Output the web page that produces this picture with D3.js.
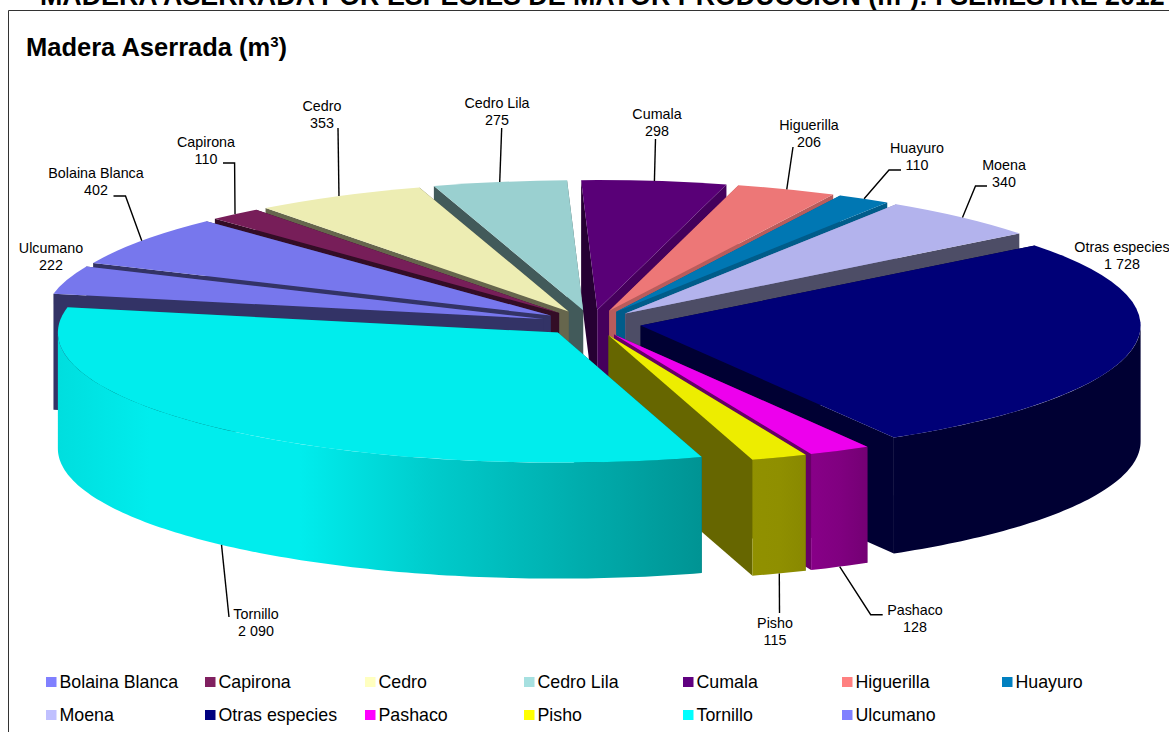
<!DOCTYPE html>
<html><head><meta charset="utf-8">
<style>html,body{margin:0;padding:0;background:#fff;overflow:hidden}svg{display:block;font-family:"Liberation Sans",Arial,sans-serif}</style>
<script src="https://d3js.org/d3.v7.min.js"></script></head><body><svg id="c" width="1169" height="732"></svg>
<script>
// ---- data ----
const categories = ["Bolaina Blanca","Capirona","Cedro","Cedro Lila","Cumala","Higuerilla","Huayuro","Moena","Otras especies","Pashaco","Pisho","Tornillo","Ulcumano"];
const values = [402,110,353,275,298,206,110,340,1728,128,115,2090,222];
const valueLabels = ["402","110","353","275","298","206","110","340","1 728","128","115","2 090","222"];
const colors = ["#8080ff","#802060","#ffffc0","#a6e0e0","#600080","#ff8080","#0080c0","#c0c0ff","#000080","#ff00ff","#ffff00","#00ffff","#8080ff"];
// ---- layout ----
const W=1169,H=732, cx=591.5, cy=323, rx=500, ry=130, explode=50, thick=116, startDeg=-66.2;
const labelCenters=[[96,173],[206,142],[322,106],[497,103],[657,114],[809,125],[917,148],[1004,165],[1122,247],[915,610],[775,623],[256,614],[51,248]];
const elbows=[[[125.5,196],[113.5,196]],[[234.6,163],[223,163]],[[338,128]],[[501.7,128]],[[655.5,139]],[[793,147]],[[889,170],[901,170]],[[975.5,186],[987,186]],[],[[870.7,614.7],[882.7,614.7]],[[779.5,613]],[[229,617]],[]];
const drawOrder=[4,3,5,2,6,1,7,0,12,8,9,10,11];
const legendX=[46,205,365,524,683,842,1002], legendY=[682,715];

const svg=d3.select("#c");
svg.append("text").attr("x",40).attr("y",5).attr("font-size",26.8).attr("font-weight","bold").attr("fill","#000")
  .text("MADERA ASERRADA POR ESPECIES DE MAYOR PRODUCCIÓN (m³): I SEMESTRE 2012");
svg.append("path").attr("d",`M8.5,${H}V10.5H${W}`).attr("fill","none").attr("stroke","#333").attr("stroke-width",1);
const t=svg.append("text").attr("x",26).attr("y",56).attr("font-size",25.5).attr("font-weight","bold").attr("fill","#000").text("Madera Aserrada (m");
t.append("tspan").attr("dy",-9).attr("font-size",15).text("3");
t.append("tspan").attr("dy",9).text(")");

const sx=d3.scaleLinear().domain([-1,1]).range([-rx,rx]);
const sy=d3.scaleLinear().domain([-1,1]).range([ry,-ry]);
const pie=d3.pie().sort(null).value(d=>d).startAngle(startDeg*Math.PI/180).endAngle((startDeg+360)*Math.PI/180);
const arcs=pie(values);
const arcGen=d3.arc().innerRadius(0).outerRadius(rx);
const line=d3.line();
const apex=a=>{const m=(a.startAngle+a.endAngle)/2;return [cx+Math.sin(m)*explode,cy-Math.cos(m)*explode*ry/rx];};
const rim=(a,ang,dz=0)=>{const c=apex(a);return [c[0]+sx(Math.sin(ang)),c[1]+sy(Math.cos(ang))+dz];};
const shade=(col,f)=>{const c=d3.rgb(col);return d3.rgb(c.r*f,c.g*f,c.b*f).formatHex();};

const defs=svg.append("defs");
const bx=[58,150,300,430,700,780,840,900,1150], bf=[.87,.93,.93,.8,.58,.56,.5,.4,.4];
const radialF=a=>{let d=(a*180/Math.PI+360)%360;return (d>10&&d<35)?.72:.4;};

const pg=svg.append("g");
drawOrder.forEach(i=>{
  const a=arcs[i],col=colors[i],g=pg.append("g"),c=apex(a);
  const gr=defs.append("linearGradient").attr("id","w"+i).attr("gradientUnits","userSpaceOnUse").attr("x1",bx[0]).attr("x2",bx[bx.length-1]).attr("y1",0).attr("y2",0);
  bx.forEach((x,k)=>gr.append("stop").attr("offset",(x-bx[0])/(bx[bx.length-1]-bx[0])).attr("stop-color",shade(col,bf[k])));
  [a.startAngle,a.endAngle].sort((p,q)=>Math.cos(q)-Math.cos(p)).forEach(ang=>{
    const r=rim(a,ang);
    g.append("path").attr("d",line([c,r,[r[0],r[1]+thick],[c[0],c[1]+thick]])+"Z").attr("fill",shade(col,radialF(ang)));
  });
  const lo=Math.max(a.startAngle,Math.PI/2),hi=Math.min(a.endAngle,Math.PI*1.5);
  if(hi>lo){
    const n=Math.max(2,Math.ceil((hi-lo)*60));
    const angs=d3.range(n+1).map(k=>lo+(hi-lo)*k/n);
    const pts=angs.map(x=>rim(a,x)).concat(angs.slice().reverse().map(x=>rim(a,x,thick)));
    g.append("path").attr("d",line(pts)+"Z").attr("fill",`url(#w${i})`);
  }
  g.append("path").attr("transform",`translate(${c[0]},${c[1]}) scale(1,${ry/rx})`).attr("d",arcGen(a)).attr("fill",shade(col,.93));
});

arcs.forEach((a,i)=>{
  if(!elbows[i].length) return;
  const m=(a.startAngle+a.endAngle)/2, front=Math.cos(m)<0;
  svg.append("path").attr("d",line([rim(a,m,front?thick:0),...elbows[i]])).attr("fill","none").attr("stroke","#000").attr("stroke-width",1.4);
});
arcs.forEach((a,i)=>{
  const [lx,ly]=labelCenters[i];
  [categories[i],valueLabels[i]].forEach((s,k)=>svg.append("text").attr("x",lx).attr("y",ly+5+k*17).attr("text-anchor","middle").attr("font-size",14.3).attr("fill","#000").text(s));
});
categories.forEach((n,i)=>{
  const x=legendX[i%7],y=legendY[Math.floor(i/7)];
  svg.append("rect").attr("x",x).attr("y",y-5).attr("width",10.5).attr("height",10).attr("fill",colors[i]);
  svg.append("text").attr("x",x+13.5).attr("y",y+6).attr("font-size",17.8).attr("fill","#000").text(n);
});
</script></body></html>
